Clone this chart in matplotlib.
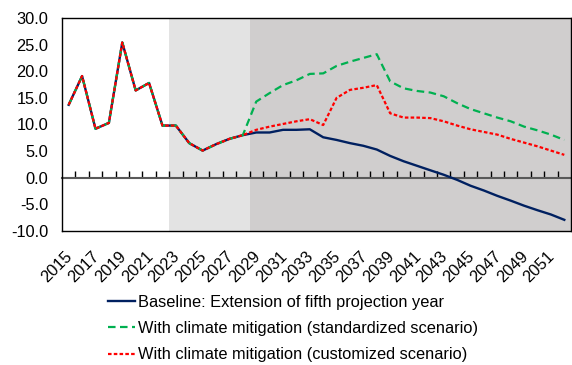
import matplotlib
matplotlib.use("Agg")
import matplotlib.pyplot as plt
import matplotlib.transforms as mtransforms
import numpy as np

years = list(range(2015, 2053))
baseline = [13.7, 19.1, 9.2, 10.3, 25.4, 16.4, 17.8, 9.8, 9.8, 6.5, 5.1, 6.3, 7.3, 8.0,
            8.5, 8.5, 9.0, 9.0, 9.1, 7.6, 7.1, 6.5, 6.0, 5.3,
            4.1, 3.1, 2.25, 1.4, 0.56, -0.4, -1.5, -2.4, -3.4, -4.3, -5.25, -6.1, -6.9, -7.9]
standardized = [13.7, 19.1, 9.2, 10.3, 25.4, 16.4, 17.8, 9.8, 9.8, 6.5, 5.1, 6.3, 7.3, 8.0,
                14.3, 15.9, 17.4, 18.3, 19.5, 19.6, 21.0, 21.8, 22.5, 23.2,
                18.1, 16.8, 16.3, 16.0, 15.3, 14.0, 12.9, 12.1, 11.3, 10.6, 9.6, 8.9, 8.1, 7.1]
customized = [13.7, 19.1, 9.2, 10.3, 25.4, 16.4, 17.8, 9.8, 9.8, 6.5, 5.1, 6.3, 7.3, 8.0,
              9.0, 9.6, 10.1, 10.6, 11.0, 9.9, 15.0, 16.5, 16.9, 17.4,
              12.1, 11.3, 11.3, 11.2, 10.6, 9.8, 9.1, 8.6, 8.1, 7.3, 6.6, 5.9, 5.1, 4.3]
labels = ["Baseline: Extension of fifth projection year",
          "With climate mitigation (standardized scenario)",
          "With climate mitigation (customized scenario)"]
projection_start = 2023
extension_start = 2029
y_ticks = [-10, -5, 0, 5, 10, 15, 20, 25, 30]

plt.rcParams['font.family'] = ['Liberation Sans', 'DejaVu Sans']
FS = 11.8

W, H = 572, 365
fig = plt.figure(figsize=(W / 100, H / 100), dpi=100)
ax = fig.add_axes([62 / W, 1 - 231 / H, (571 - 62) / W, (231 - 18) / H])

x = np.arange(len(years))
i_proj = years.index(projection_start) - 0.5
i_ext = years.index(extension_start) - 0.5
ax.axvspan(i_proj, i_ext, color='#E3E3E3', lw=0, zorder=0)
ax.axvspan(i_ext, len(years) - 0.5, color='#D0CECE', lw=0, zorder=0)

ax.plot(x, baseline, color='#002060', lw=1.7, zorder=3, label=labels[0])
ax.plot(x, standardized, color='#00B050', lw=1.6, dashes=(3.4, 2.0), zorder=4, label=labels[1])
ax.plot(x, customized, color='#FF0000', lw=1.6, dashes=(1.6, 1.0), zorder=5, label=labels[2])

ax.set_xlim(-0.5, len(years) - 0.5)
ax.set_ylim(-10, 30)
ax.set_yticks(y_ticks)
ax.set_yticklabels([f"{v:.1f}" for v in y_ticks], fontsize=FS)
ax.tick_params(axis='y', length=0, pad=10)
ax.set_xticks(x[::2])
ax.set_xticklabels([str(y) for y in years[::2]], fontsize=FS, rotation=45,
                   ha='right', va='top', rotation_mode='anchor')
ax.tick_params(axis='x', length=0, pad=12.5)
shift = mtransforms.ScaledTranslation(-0.04, 0, fig.dpi_scale_trans)
for lbl in ax.get_xticklabels():
    lbl.set_transform(lbl.get_transform() + shift)
for s in ax.spines.values():
    s.set_color('black')
    s.set_linewidth(1.0)

zero_pos = (0 - (-10)) / 40
sec = ax.secondary_xaxis(zero_pos)
sec.set_xticks(np.arange(0.5, len(years) - 0.5, 1.0))
sec.tick_params(direction='in', length=5, width=1, color='black', labelbottom=False, labeltop=False)
for s in sec.spines.values():
    s.set_color('#595959')
    s.set_linewidth(1.5)
sec.set_zorder(1)

handles, labs = ax.get_legend_handles_labels()
fig.legend(handles, labs, loc='upper left', bbox_to_anchor=(108 / W, 1 - 295 / H),
           frameon=False, fontsize=FS, handlelength=1.65, handletextpad=0.18,
           labelspacing=0.68, borderpad=0, borderaxespad=0)

fig.savefig('out.png', dpi=100)
